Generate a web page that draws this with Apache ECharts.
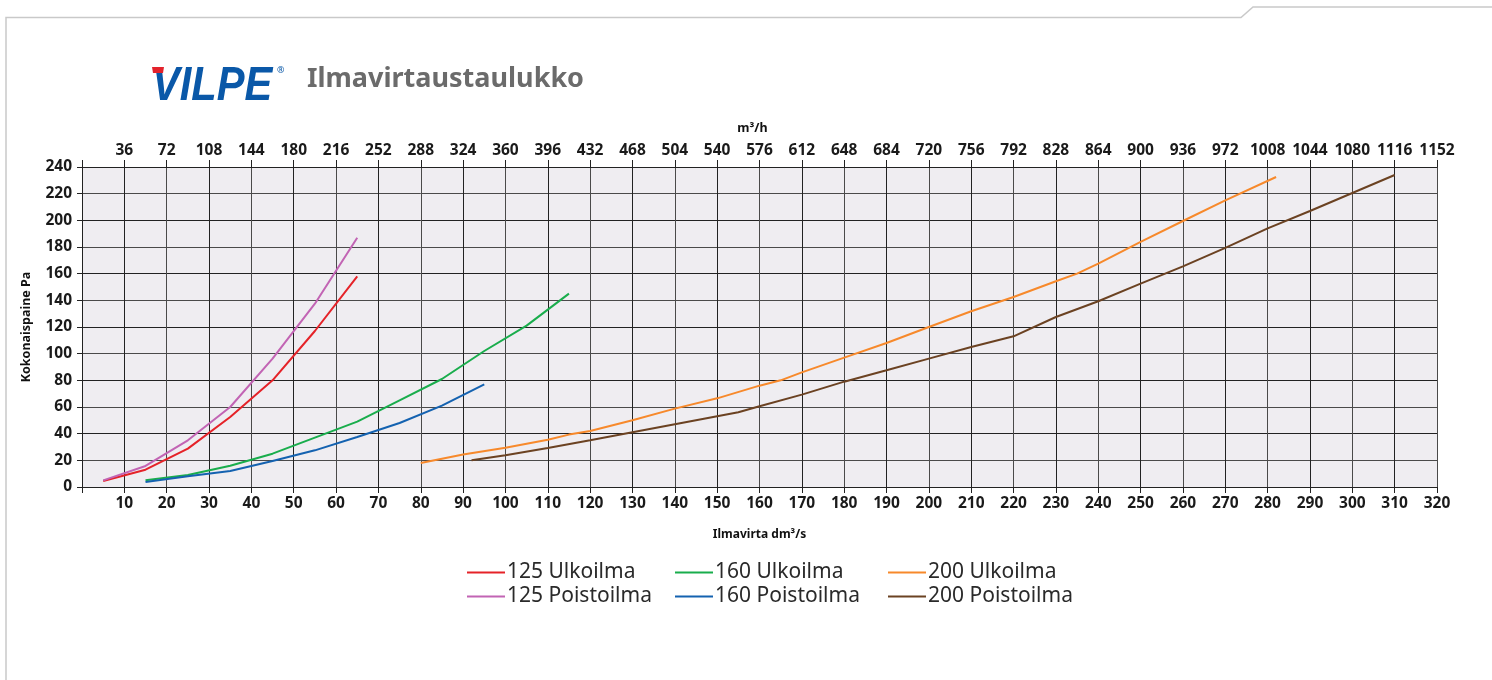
<!DOCTYPE html>
<html>
<head>
<meta charset="utf-8">
<script src="https://cdn.jsdelivr.net/npm/echarts@6/dist/echarts.min.js"></script>
<style>
  html, body { margin: 0; padding: 0; background: #fff; }
  #chart { width: 1492px; height: 680px; }
</style>
</head>
<body>
<div id="chart"></div>
<script>
// values (x = Ilmavirta dm³/s, y = Kokonaispaine Pa)
const ulko125X = [5, 15, 25, 35, 45, 55, 65];
const ulko125Y = [4.5, 13, 28.8, 52.5, 80, 117, 158];
const poisto125X = [5, 15, 25, 35, 45, 55, 65];
const poisto125Y = [5, 15.8, 35, 60, 96.3, 137.5, 187];
const ulko160X = [15, 25, 35, 45, 55, 65, 75, 85, 95, 105, 115];
const ulko160Y = [5, 9, 16, 25, 37, 49, 65, 81, 102, 121, 145];
const poisto160X = [15, 25, 35, 45, 55, 65, 75, 85, 95];
const poisto160Y = [3.8, 8, 12, 19.5, 27.5, 37.5, 48, 61, 77];
const ulko200X = [80, 90, 100, 110, 115, 120, 130, 140, 150, 160, 165, 170, 180, 190, 200, 210, 220, 230, 235, 240, 250, 260, 270, 282];
const ulko200Y = [18, 24.3, 29.5, 35.5, 39.3, 42, 50, 58.8, 66.5, 76, 80, 86, 97, 108, 120, 131.8, 142.5, 154.3, 160, 167.5, 183.8, 199.5, 215, 232.5];
const poisto200X = [92, 100, 110, 120, 130, 140, 150, 155, 160, 170, 180, 190, 200, 210, 220, 230, 240, 250, 260, 270, 280, 290, 300, 310];
const poisto200Y = [20, 23.8, 29.3, 35, 41, 47, 53, 56, 60.5, 69.3, 79, 87.5, 96.3, 105, 113, 127.5, 139.3, 152.5, 165.5, 179.3, 194, 207, 220.5, 234];

// top axis tick labels (m³/h) for every 10 dm³/s
const m3hLabels = [36, 72, 108, 144, 180, 216, 252, 288, 324, 360, 396, 432, 468, 504, 540, 576, 612, 648, 684, 720, 756, 792, 828, 864, 900, 936, 972, 1008, 1044, 1080, 1116, 1152];

const seriesNames = ['125 Ulkoilma', '125 Poistoilma', '160 Ulkoilma', '160 Poistoilma', '200 Ulkoilma', '200 Poistoilma'];
const seriesColors = ['#e52228', '#c264b4', '#19ad4c', '#1462b0', '#f7892b', '#6b4222'];
const seriesX = [ulko125X, poisto125X, ulko160X, poisto160X, ulko200X, poisto200X];
const seriesY = [ulko125Y, poisto125Y, ulko160Y, poisto160Y, ulko200Y, poisto200Y];

const zip = (xs, ys) => xs.map((x, i) => [x, ys[i]]);
const tickFont = 15.5;

const chart = echarts.init(document.getElementById('chart'), null, { renderer: 'canvas' });

const legendCol = (left, names) => ({
  orient: 'vertical',
  left: left,
  top: 562,
  data: names,
  icon: 'rect',
  itemWidth: 38,
  itemHeight: 2,
  itemGap: 3,
  padding: 0,
  textStyle: { fontFamily: 'Noto Sans', fontSize: 21, color: '#2a2a2a', padding: [0, 0, 0, -3] }
});

chart.setOption({
  animation: false,
  backgroundColor: '#ffffff',
  textStyle: { fontFamily: 'Noto Sans' },
  grid: {
    left: 82, right: 55, top: 167, height: 320,
    show: true, backgroundColor: '#efedf1', borderWidth: 0
  },
  legend: [
    legendCol(467, ['125 Ulkoilma', '125 Poistoilma']),
    legendCol(675, ['160 Ulkoilma', '160 Poistoilma']),
    legendCol(888, ['200 Ulkoilma', '200 Poistoilma'])
  ],
  xAxis: [
    {
      type: 'value', min: 0, max: 320, interval: 10,
      name: 'Ilmavirta dm³/s', nameLocation: 'middle', nameGap: 42,
      nameTextStyle: { fontWeight: 'bold', fontSize: 12, color: '#111' },
      axisLine: { show: true, onZero: false, lineStyle: { color: '#222', width: 1 } },
      axisTick: { show: true, length: 6, lineStyle: { color: '#222' } },
      axisLabel: {
        margin: 9, fontWeight: 'bold', fontSize: tickFont, color: '#1a1a1a',
        formatter: v => (v === 0 ? '' : String(v))
      },
      splitLine: { show: true, lineStyle: { color: ['#4a4a4a', '#222222'], width: 1 } }
    },
    {
      type: 'value', position: 'top', min: 0, max: 320, interval: 10,
      name: 'm³/h', nameLocation: 'middle', nameGap: 32,
      nameTextStyle: { fontWeight: 'bold', fontSize: 12.5, color: '#111', padding: [0, 14, 0, 0] },
      axisLine: { show: true, onZero: false, lineStyle: { color: '#222', width: 1 } },
      axisTick: { show: true, length: 7, lineStyle: { color: '#222' } },
      axisLabel: {
        margin: 8, fontWeight: 'bold', fontSize: tickFont, color: '#1a1a1a',
        formatter: v => (v === 0 ? '' : String(m3hLabels[Math.round(v / 10) - 1]))
      },
      splitLine: { show: false }
    }
  ],
  yAxis: {
    type: 'value', min: 0, max: 240, interval: 20,
    name: 'Kokonaispaine Pa', nameLocation: 'middle', nameGap: 49,
    nameTextStyle: { fontWeight: 'bold', fontSize: 12.5, color: '#111' },
    axisLine: { show: true, onZero: false, lineStyle: { color: '#222', width: 1 } },
    axisTick: { show: true, length: 5, lineStyle: { color: '#222' } },
    axisLabel: { margin: 10, fontWeight: 'bold', fontSize: tickFont, color: '#1a1a1a' },
    splitLine: { show: true, lineStyle: { color: ['#222222', '#4a4a4a'], width: 1 } }
  },
  series: seriesNames.map((name, i) => ({
    name: name,
    type: 'line',
    xAxisIndex: 0,
    yAxisIndex: 0,
    data: zip(seriesX[i], seriesY[i]),
    showSymbol: false,
    symbol: 'none',
    color: seriesColors[i],
    lineStyle: { width: 2, color: seriesColors[i] },
    z: 3
  })),
  graphic: [
    // page frame
    {
      type: 'polyline', silent: true,
      shape: { points: [[6, 680], [6, 17.5], [1241, 17.5], [1253, 7], [1492, 7]] },
      style: { stroke: '#c9c9c9', lineWidth: 1.5, fill: null }
    },
    // logo
    {
      type: 'text', left: 152, top: 62, z: 1,
      style: {
        text: 'VILPE', fontFamily: 'Liberation Sans', fontStyle: 'italic',
        fontWeight: 'bold', fontSize: 49, fill: '#0a58a8'
      },
      scaleX: 0.85
    },
    {
      type: 'polygon', silent: true, z: 2,
      shape: { points: [[152, 67], [164, 67], [163, 73], [153, 73]] },
      style: { fill: '#e3222b' }
    },
    {
      type: 'text', left: 277, top: 66,
      style: { text: '®', fontFamily: 'Noto Sans', fontSize: 9, fill: '#0a58a8' }
    },
    {
      type: 'text', left: 307, top: 66,
      style: {
        text: 'Ilmavirtaustaulukko', fontFamily: 'Noto Sans',
        fontWeight: 'bold', fontSize: 27, fill: '#6b6b6b'
      }
    }
  ]
});
</script>
</body>
</html>
